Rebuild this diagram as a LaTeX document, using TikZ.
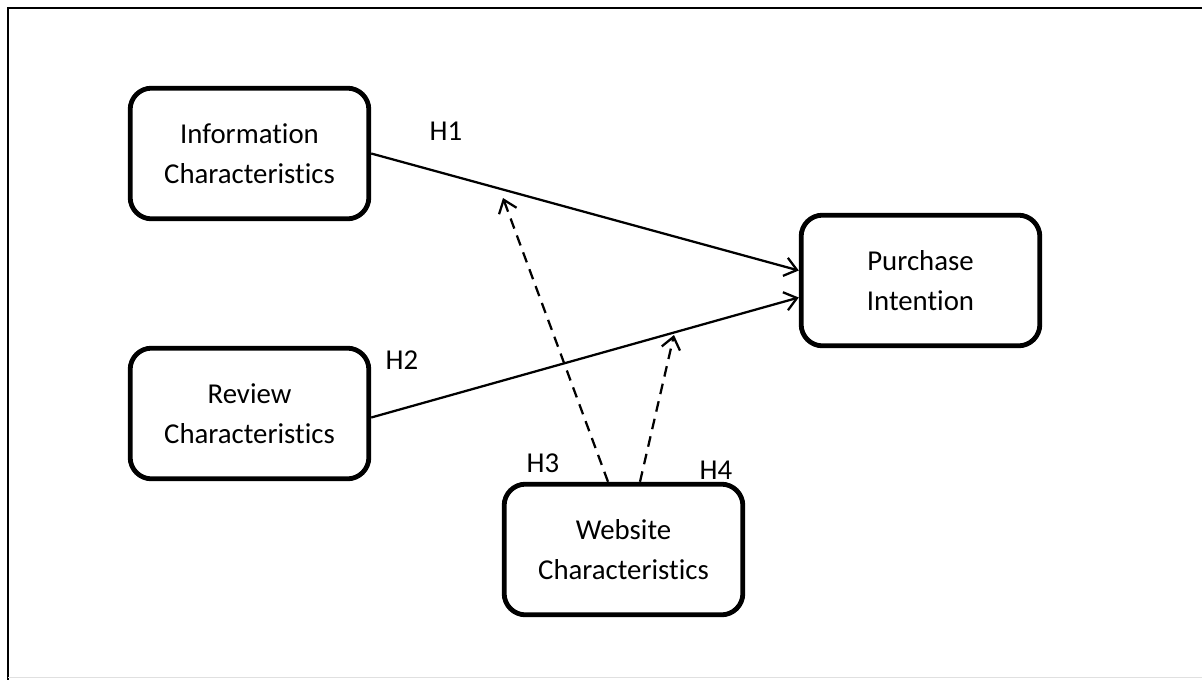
\documentclass[tikz,border=0pt]{standalone}
\usepackage{fontspec}
\setmainfont{Carlito}[Ligatures={NoCommon},RawFeature={-liga}]
\usetikzlibrary{arrows.meta,calc}
\begin{document}
\begin{tikzpicture}[x=0.75pt,y=-0.75pt,
  box/.style={draw,line width=3.6pt,rounded corners=16pt,minimum width=179pt,minimum height=98pt,align=center,font=\fontsize{21.6}{30}\selectfont,inner sep=0pt},
  conn/.style={line width=1.7pt,-{Straight Barb[length=9pt,width=14pt]}},
  dconn/.style={conn,dash pattern=on 8pt off 5.5pt},
  hyp/.style={font=\fontsize{21.6}{26}\selectfont,inner sep=0pt},
  frame/.style={line width=2pt,line cap=rect}
]
\useasboundingbox (0,0) rectangle (1202,679);
\draw[frame] (8,679) -- (8,8) -- (1202,8);
\draw[line width=0.8pt,black!12] (8,677.5) -- (1202,677.5);

\node[box] (info) at (249.5,153.5) {Information\\Characteristics};
\node[box] (rev) at (249.5,413.5) {Review\\Characteristics};
\node[box] (pur) at (920.5,280.5) {Purchase\\Intention};
\node[box] (web) at (623.5,549.5) {Website\\Characteristics};

\draw[conn] (info.east) -- ($(pur.west)+(0,-10)$);
\draw[conn] ($(rev.east)+(0,4)$) -- ($(pur.west)+(0,17)$);

\coordinate (m1) at (503,198);
\coordinate (m2) at (674,335);
\draw[dconn] ($(web.north)+(-15.5,0)$) -- (m1);
\draw[dconn] ($(web.north)+(16.5,0)$) -- (m2);

\node[hyp] (h1) at (446,131) {H1};
\node[hyp] (h2) at (402,360) {H2};
\node[hyp] (h3) at (543,463) {H3};
\node[hyp] (h4) at (716,470) {H4};
\end{tikzpicture}
\end{document}
